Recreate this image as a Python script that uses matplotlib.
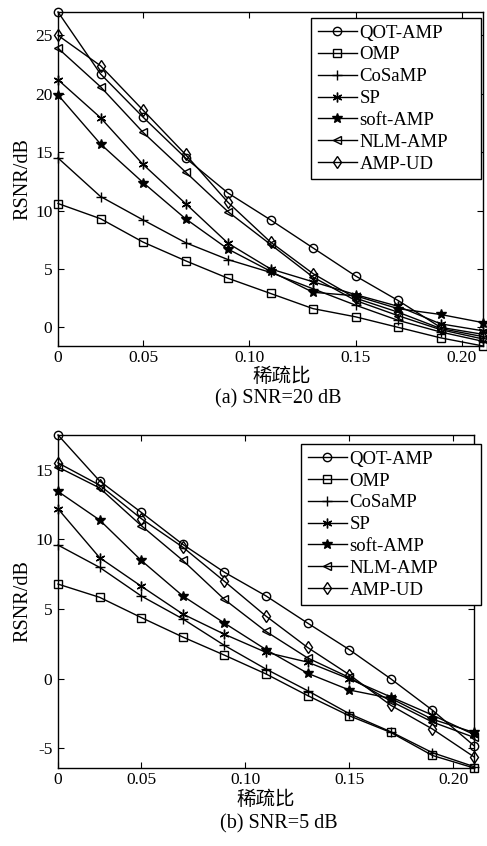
import matplotlib
matplotlib.use("Agg")
import matplotlib.pyplot as plt
import numpy as np

plt.rcParams['font.family'] = ['Liberation Serif', 'Noto Sans CJK SC']
plt.rcParams['axes.unicode_minus'] = False

# sparsity ratio (x axis)
sparsity = [0.01, 0.03, 0.05, 0.07, 0.09, 0.11, 0.13, 0.15, 0.17, 0.19, 0.21]
xtick_pos = [0.01, 0.05, 0.10, 0.15, 0.20]
xtick_labels = ['0', '0.05', '0.10', '0.15', '0.20']

methods = ['QOT-AMP', 'OMP', 'CoSaMP', 'SP', 'soft-AMP', 'NLM-AMP', 'AMP-UD']

# (a) SNR = 20 dB
qot_20 = [27.0, 21.7, 18.0, 14.5, 11.5, 9.2, 6.8, 4.4, 2.3, 0.0, -0.6]
omp_20 = [10.6, 9.3, 7.3, 5.7, 4.2, 2.9, 1.6, 0.9, 0.0, -0.9, -1.6]
cosamp_20 = [14.5, 11.2, 9.2, 7.25, 5.8, 4.7, 3.3, 1.9, 0.6, -0.4, -1.2]
sp_20 = [21.2, 17.95, 13.95, 10.6, 7.2, 5.0, 3.9, 2.8, 1.8, 0.3, -0.3]
soft_20 = [19.9, 15.7, 12.4, 9.3, 6.7, 4.8, 3.0, 2.7, 1.6, 1.1, 0.4]
nlm_20 = [23.9, 20.6, 16.7, 13.3, 9.9, 7.1, 4.3, 2.3, 1.0, -0.2, -1.0]
ampud_20 = [25.0, 22.4, 18.6, 14.8, 10.7, 7.3, 4.6, 2.5, 1.3, -0.1, -0.8]

# (b) SNR = 5 dB
qot_5 = [17.5, 14.2, 11.95, 9.65, 7.65, 5.95, 4.0, 2.1, 0.0, -2.25, -4.8]
omp_5 = [6.8, 5.85, 4.4, 3.0, 1.7, 0.35, -1.2, -2.65, -3.85, -5.5, -6.4]
cosamp_5 = [9.6, 8.0, 5.95, 4.3, 2.4, 0.7, -0.85, -2.5, -3.8, -5.3, -6.3]
sp_5 = [12.2, 8.7, 6.65, 4.65, 3.2, 1.9, 1.2, 0.0, -1.3, -2.6, -4.0]
soft_5 = [13.45, 11.4, 8.5, 5.95, 4.0, 2.1, 0.4, -0.8, -1.4, -2.9, -3.85]
nlm_5 = [15.2, 13.7, 11.0, 8.5, 5.7, 3.4, 1.5, 0.1, -1.6, -3.1, -4.2]
ampud_5 = [15.5, 13.9, 11.5, 9.45, 7.0, 4.5, 2.25, 0.3, -1.9, -3.6, -5.6]

styles = [
    dict(marker='o', mfc='none'),
    dict(marker='s', mfc='none'),
    dict(marker='+', markersize=7),
    dict(marker=(6, 2, 0), markersize=7),
    dict(marker='*', markersize=7),
    dict(marker='<', mfc='none'),
    dict(marker='d', mfc='none'),
]

W, H = 487, 846
fig = plt.figure(figsize=(W / 100, H / 100), dpi=100)


def make_panel(rect, series, yticks, legend_px, xlab_pos, cap_pos, cap_text):
    ax = fig.add_axes(rect)
    for name, ys, st in zip(methods, series, styles):
        kw = dict(color='black', lw=1.0, markersize=6, mec='black', mew=1.0,
                  clip_on=False)
        kw.update(st)
        ax.plot(sparsity, ys, label=name, **kw)
    allv = np.concatenate([np.array(s) for s in series])
    ax.set_xlim(sparsity[0], sparsity[-1])
    ax.set_ylim(allv.min(), allv.max())
    ax.set_xticks(xtick_pos)
    ax.set_xticklabels(xtick_labels)
    ax.set_yticks(yticks)
    ax.tick_params(direction='in', length=4, width=0.8, labelsize=12.5,
                   top=True, right=True, pad=4)
    ax.tick_params(axis='x', pad=3)
    for sp in ax.spines.values():
        sp.set_linewidth(1.0)
    ax.set_ylabel('RSNR/dB', fontsize=14.5, labelpad=2)
    # legend box given in pixels: left, top, right, bottom
    l, t, r, b = legend_px
    box = (l / W, 1 - b / H, (r - l) / W, (b - t) / H)
    leg = ax.legend(loc='upper left', bbox_to_anchor=box,
                    bbox_transform=fig.transFigure, mode='expand',
                    fontsize=13.5, handlelength=2.1, handletextpad=0.15,
                    labelspacing=0.25, borderpad=0.35, borderaxespad=0,
                    fancybox=False, framealpha=1, edgecolor='black')
    leg.get_frame().set_linewidth(1.0)
    fig.text(xlab_pos[0] / W, 1 - xlab_pos[1] / H, '稀疏比', ha='center',
             va='center', fontsize=14, family='Noto Sans CJK SC')
    fig.text(cap_pos[0] / W, 1 - cap_pos[1] / H, cap_text, ha='center',
             va='center', fontsize=14.5)
    return ax


make_panel([58 / W, 1 - 346 / H, 425 / W, 334 / H],
           [qot_20, omp_20, cosamp_20, sp_20, soft_20, nlm_20, ampud_20],
           [0, 5, 10, 15, 20, 25], (311, 18, 481, 178),
           (282, 376), (278, 399), '(a) SNR=20 dB')

make_panel([58 / W, 1 - 768 / H, 416 / W, 333 / H],
           [qot_5, omp_5, cosamp_5, sp_5, soft_5, nlm_5, ampud_5],
           [-5, 0, 5, 10, 15], (301, 444, 481, 605),
           (266, 799), (279, 824), '(b) SNR=5 dB')

fig.savefig('out.png', dpi=100)
